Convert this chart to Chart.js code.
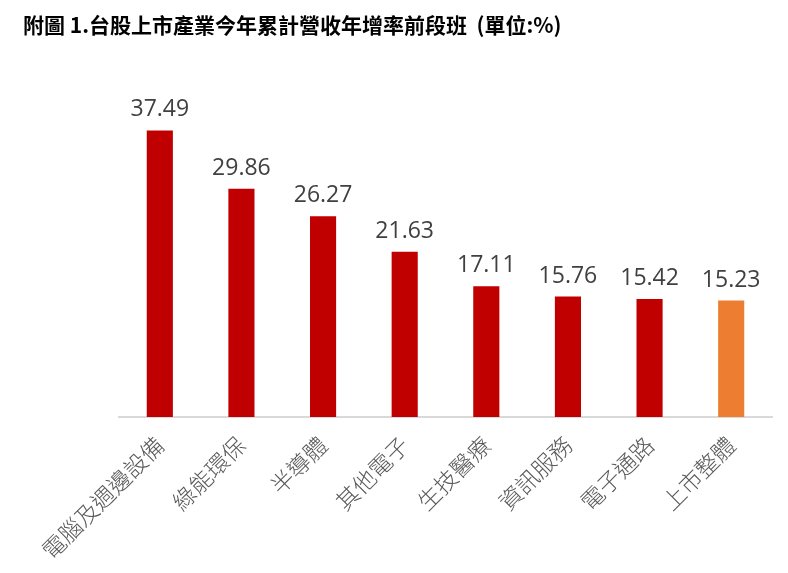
<!DOCTYPE html>
<html>
<head>
<meta charset="utf-8">
<script src="https://cdn.jsdelivr.net/npm/chart.js@4"></script>
<style>
  html, body { margin: 0; padding: 0; background: #fff; }
  #wrap { width: 788px; height: 573px; }
</style>
</head>
<body>
<div id="wrap"><canvas id="chart" width="788" height="573"></canvas></div>
<script>
var categories = ['電腦及週邊設備', '綠能環保', '半導體', '其他電子', '生技醫療', '資訊服務', '電子通路', '上市整體'];
var growthRates = [37.49, 29.86, 26.27, 21.63, 17.11, 15.76, 15.42, 15.23];
var barColors = ['#C00000', '#C00000', '#C00000', '#C00000', '#C00000', '#C00000', '#C00000', '#ED7D31'];
var titleText = '附圖 1.台股上市產業今年累計營收年增率前段班  (單位:%)';

// draws the value above each bar
var valueLabels = {
    id: 'valueLabels',
    afterDatasetsDraw: function(chart) {
        var ctx = chart.ctx;
        var meta = chart.getDatasetMeta(0);
        ctx.save();
        ctx.font = '23px "Open Sans", sans-serif';
        ctx.fillStyle = '#404040';
        ctx.textAlign = 'center';
        ctx.textBaseline = 'bottom';
        meta.data.forEach(function(bar, i) {
            ctx.fillText(growthRates[i].toFixed(2), bar.x, bar.y - 9);
        });
        ctx.restore();
    }
};

var ctx = document.getElementById('chart').getContext('2d');
var chart = new Chart(ctx, {
    type: 'bar',
    data: {
        labels: categories,
        datasets: [{
            data: growthRates,
            backgroundColor: barColors,
            barPercentage: 0.32,
            categoryPercentage: 1.0
        }]
    },
    plugins: [valueLabels],
    options: {
        responsive: false,
        animation: false,
        layout: { padding: { left: 23, right: 16, top: 0, bottom: 7 } },
        plugins: {
            legend: { display: false },
            tooltip: { enabled: false },
            title: {
                display: true,
                text: titleText,
                align: 'start',
                color: '#000',
                font: { family: '"Noto Sans CJK TC", sans-serif', size: 21, weight: 'bold' },
                padding: { top: 12, bottom: 74 }
            }
        },
        scales: {
            x: {
                // keep the plot area where the original has it
                afterFit: function(scale) {
                    scale.paddingLeft = 119;
                    scale.paddingRight = 16;
                    scale.height = 149;
                },
                grid: { display: false, drawTicks: false },
                border: { display: true, color: '#D9D9D9', width: 2 },
                ticks: {
                    minRotation: 45,
                    maxRotation: 45,
                    padding: 14,
                    color: '#595959',
                    font: { family: '"Noto Sans CJK TC", sans-serif', size: 23, weight: 300 }
                }
            },
            y: {
                display: false,
                min: 0,
                max: 40
            }
        }
    }
});
</script>
</body>
</html>
